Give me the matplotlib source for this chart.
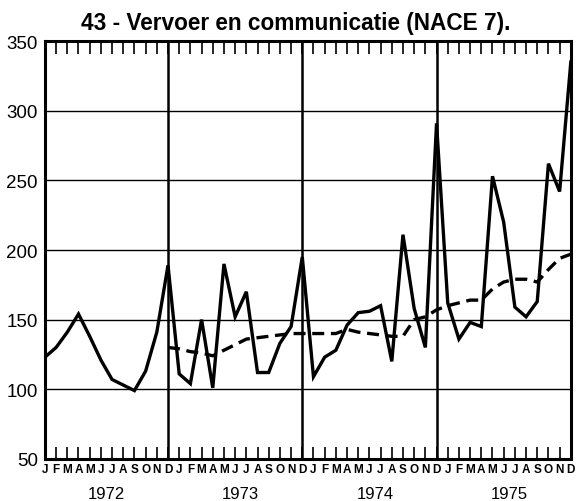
import numpy as np
import matplotlib.pyplot as plt

plt.rcParams['font.family'] = ['Liberation Sans', 'DejaVu Sans']

months = ["J", "F", "M", "A", "M", "J", "J", "A", "S", "O", "N", "D"]
years = ["1972", "1973", "1974", "1975"]

# monthly index, Jan 1972 .. Dec 1975
monthly = [
    123, 130, 141, 154, 138, 121, 107, 103, 99, 113, 141, 189,
    111, 104, 150, 101, 190, 152, 170, 112, 112, 133, 145, 195,
    109, 123, 128, 146, 155, 156, 160, 120, 211, 158, 130, 291,
    162, 136, 148, 145, 253, 220, 159, 152, 163, 262, 242, 335,
]

# moving average, starts Dec 1972
trend_start = 11
trend = [
    130,
    129, 127, 126, 124, 128, 132, 136, 137, 138, 139, 140, 140,
    140, 140, 140, 143, 141, 140, 139, 138, 138, 150, 152, 157,
    160, 162, 164, 164, 172, 177, 179, 179, 177, 186, 194, 197,
]

fig = plt.figure(figsize=(5.76, 5.02), dpi=100)
ax = fig.add_axes([0.078, 0.084, 0.913, 0.832])

x = np.arange(len(monthly))
ax.plot(x, monthly, color="black", lw=2.4, solid_joinstyle="miter")
xt = np.arange(trend_start, trend_start + len(trend))
ax.plot(xt, trend, color="black", lw=2.4, dashes=(3.6, 2.0))

ax.set_xlim(0, 47)
ax.set_ylim(50, 350)

for y in [100, 150, 200, 250, 300]:
    ax.axhline(y, color="black", lw=1.0, zorder=0)
for d in [11, 23, 35]:
    ax.axvline(d, color="black", lw=1.8, zorder=0)

for s in ax.spines.values():
    s.set_linewidth(2.2)

ax.set_yticks([50, 100, 150, 200, 250, 300, 350])
ax.tick_params(axis="y", length=0, labelsize=13.5, pad=5)

ax.set_xticks(x)
ax.set_xticklabels(months * 4, fontsize=8.5, fontweight="bold")
ax.tick_params(axis="x", direction="in", top=True, length=9, width=1.2, pad=3)

for i, yr in enumerate(years):
    ax.text(5.5 + 12 * i, -0.083, yr, transform=ax.get_xaxis_transform(),
            ha="center", va="center", fontsize=12)

ax.set_title("43 - Vervoer en communicatie (NACE 7).", fontsize=16.3,
             fontweight="bold", pad=9, x=0.477)

fig.savefig("out.png", dpi=100)
